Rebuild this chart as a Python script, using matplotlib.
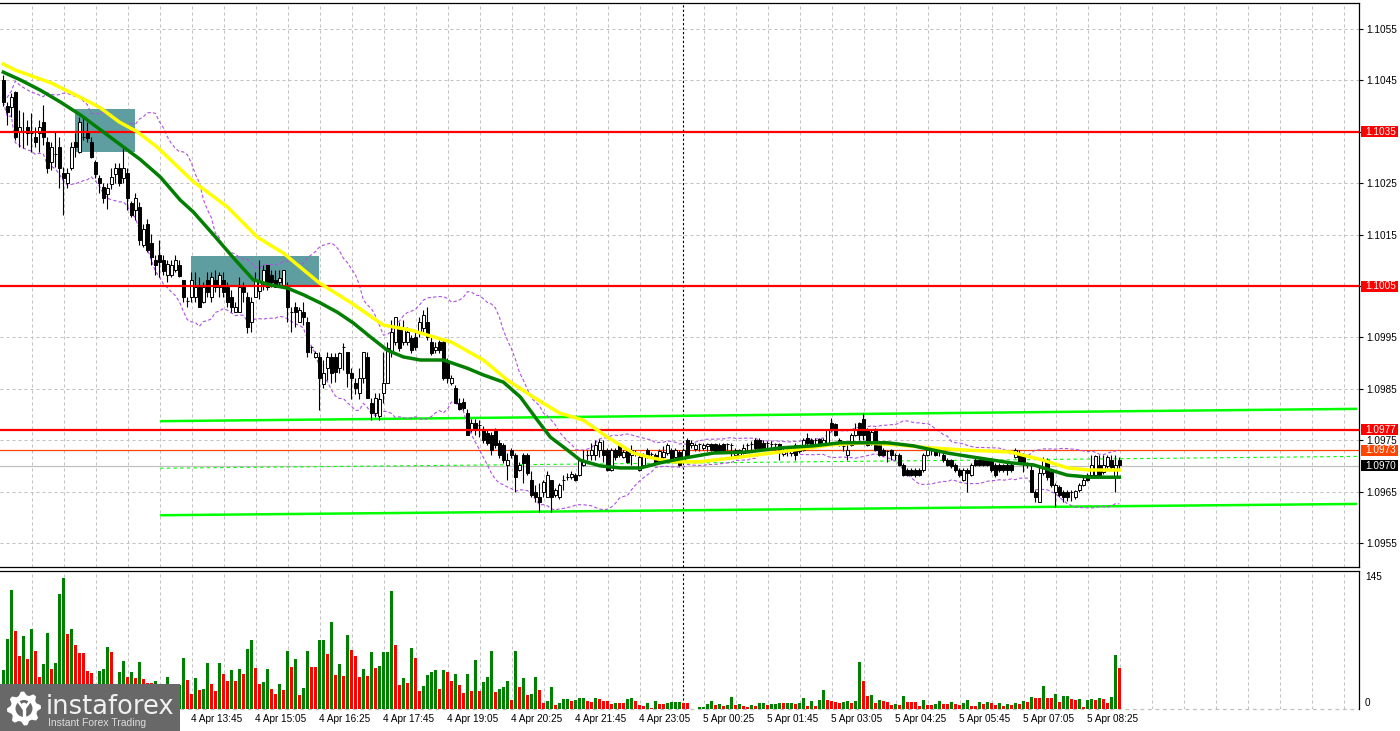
import numpy as np
import pandas as pd
import matplotlib
matplotlib.use("Agg")
import matplotlib.pyplot as plt
from matplotlib.patches import Rectangle, Circle, Polygon
from matplotlib.transforms import blended_transform_factory

plt.rcParams["font.family"] = ["Liberation Sans", "DejaVu Sans"]

# --- price data: 5-minute candles, pips above BASE ---
BASE = 1.0900

open_pips = [
    145.1, 140.0, 139.8, 142.7, 135.0, 135.0, 135.9, 134.7, 134.0, 134.8,
    136.9, 133.0, 129.1, 130.7, 132.0, 127.0, 125.0, 128.0, 133.0, 131.0,
    134.0, 135.0, 133.0, 129.1, 126.0, 124.3, 122.9, 124.9, 126.8, 128.0,
    126.0, 127.0, 121.1, 119.8, 120.4, 113.0, 117.1, 113.4, 110.1, 111.0,
    110.1, 107.1, 107.1, 108.1, 109.1, 106.2, 102.1, 102.9, 102.9, 104.8,
    101.9, 106.2, 102.9, 106.2, 104.8, 106.2, 104.8, 102.9, 99.9, 99.9,
    104.8, 102.9, 98.0, 102.9, 104.0, 105.8, 109.1, 107.1, 106.2, 105.8,
    104.8, 104.8, 99.9, 101.0, 98.0, 100.0, 98.0, 93.1, 91.2, 91.2,
    86.0, 89.0, 91.2, 91.2, 89.0, 93.1, 92.2, 88.1, 86.1, 84.1,
    87.1, 91.2, 82.2, 80.3, 79.8, 84.1, 86.1, 92.2, 94.2, 97.0,
    94.1, 94.1, 94.9, 95.0, 96.0, 96.8, 98.0, 94.1, 92.5, 94.1,
    94.1, 90.2, 86.1, 85.2, 82.2, 82.5, 80.3, 77.0, 78.3, 78.0,
    77.0, 76.4, 76.0, 77.0, 74.5, 74.1, 70.2, 73.1, 72.1, 69.2,
    72.1, 72.1, 67.3, 64.9, 63.9, 64.9, 63.9, 67.3, 64.3, 63.9,
    67.3, 67.8, 67.8, 68.2, 68.2, 70.2, 72.1, 72.1, 72.1, 73.1,
    73.1, 73.1, 69.2, 73.1, 74.1, 71.7, 73.1, 72.1, 72.5, 69.2,
    70.2, 73.1, 72.3, 72.1, 71.0, 71.7, 72.5, 73.1, 71.7, 72.7,
    71.1, 75.0, 74.0, 73.3, 74.3, 73.5, 73.9, 74.3, 74.3, 74.1,
    74.3, 74.3, 74.1, 72.1, 72.1, 72.5, 74.1, 74.3, 75.0, 75.0,
    74.5, 74.5, 74.3, 74.3, 74.3, 72.3, 72.9, 72.5, 74.1, 73.3,
    73.1, 75.4, 75.0, 75.0, 75.2, 74.1, 74.1, 78.3, 78.1, 75.0,
    73.9, 72.1, 74.1, 76.0, 78.3, 79.1, 77.0, 74.5, 77.0, 74.1,
    73.1, 72.9, 73.1, 72.1, 72.1, 70.2, 69.2, 69.2, 69.2, 69.2,
    69.2, 72.1, 73.1, 73.1, 73.1, 72.1, 71.1, 71.1, 70.2, 69.2,
    67.3, 69.2, 68.2, 71.1, 71.1, 71.1, 71.1, 71.1, 70.2, 70.2,
    70.2, 70.2, 70.2, 71.7, 72.1, 72.1, 70.2, 69.2, 64.9, 63.0,
    68.6, 71.1, 68.8, 64.9, 65.9, 64.9, 64.9, 64.9, 63.9, 65.3,
    66.3, 68.2, 68.2, 68.2, 70.2, 68.8, 70.0, 71.1, 67.8, 71.1,
]
high_pips = [
    146.0, 140.8, 142.5, 143.0, 139.2, 138.9, 137.3, 138.7, 135.9, 137.3,
    140.2, 134.0, 133.0, 135.0, 134.0, 128.2, 128.0, 133.0, 134.8, 137.9,
    137.9, 136.9, 134.0, 129.5, 126.6, 125.0, 125.0, 128.0, 129.0, 129.0,
    131.8, 128.0, 121.5, 123.1, 121.4, 117.1, 118.0, 115.2, 111.0, 113.9,
    111.0, 110.1, 110.1, 111.0, 110.1, 106.2, 102.9, 107.7, 107.7, 106.7,
    105.8, 107.7, 107.7, 108.1, 107.7, 107.7, 105.8, 104.2, 101.9, 106.7,
    105.8, 103.8, 102.9, 107.7, 110.0, 109.1, 109.1, 108.1, 108.1, 108.1,
    108.1, 105.8, 100.9, 101.9, 100.9, 101.9, 99.0, 93.3, 92.3, 92.2,
    90.6, 92.2, 92.0, 92.0, 92.2, 93.9, 92.2, 89.0, 87.1, 89.0,
    92.2, 92.2, 83.2, 84.1, 84.1, 92.2, 94.1, 98.4, 98.9, 98.0,
    98.4, 97.0, 95.5, 96.0, 98.9, 100.3, 100.9, 95.0, 94.1, 94.5,
    94.5, 91.0, 87.7, 85.7, 83.2, 83.2, 81.0, 79.1, 79.1, 78.9,
    77.7, 77.0, 76.6, 77.4, 75.0, 74.5, 72.5, 73.5, 72.5, 70.8,
    72.5, 72.5, 69.0, 66.3, 66.7, 67.3, 69.0, 67.3, 65.7, 66.7,
    68.2, 68.6, 69.0, 68.6, 71.5, 73.1, 73.1, 74.5, 75.0, 75.3,
    75.0, 73.5, 73.5, 73.5, 74.5, 73.1, 73.5, 74.1, 73.1, 72.1,
    72.5, 73.5, 72.7, 72.5, 73.3, 73.9, 74.5, 73.5, 73.5, 73.1,
    73.5, 75.4, 75.0, 74.5, 74.5, 74.5, 74.5, 74.5, 74.5, 74.5,
    74.5, 74.5, 74.5, 73.5, 73.3, 74.3, 74.5, 74.8, 75.4, 75.4,
    75.0, 74.8, 74.8, 74.5, 74.5, 73.5, 73.3, 73.5, 74.5, 73.9,
    75.4, 76.4, 75.4, 75.4, 75.4, 75.4, 77.0, 79.3, 78.3, 75.4,
    74.1, 74.5, 76.4, 78.3, 78.5, 80.3, 77.4, 77.0, 77.4, 74.5,
    73.5, 73.1, 73.3, 72.5, 72.5, 70.6, 69.6, 69.6, 69.6, 69.6,
    72.5, 73.5, 73.5, 73.5, 73.3, 72.5, 71.5, 71.3, 70.6, 69.6,
    69.6, 69.6, 70.6, 71.5, 71.3, 71.3, 71.3, 71.5, 70.6, 70.6,
    70.4, 70.6, 70.6, 73.5, 73.1, 72.5, 70.8, 70.2, 65.3, 70.2,
    71.7, 71.5, 69.2, 66.7, 66.3, 65.3, 65.3, 65.3, 65.3, 66.7,
    67.8, 68.6, 72.1, 72.1, 72.1, 72.1, 72.1, 72.1, 72.1, 71.7,
]
low_pips = [
    140.0, 136.3, 137.9, 133.5, 132.0, 131.8, 132.4, 131.1, 132.0, 131.1,
    132.4, 127.0, 127.6, 128.2, 124.1, 118.8, 124.1, 127.6, 130.1, 130.9,
    133.4, 133.0, 129.9, 126.0, 123.1, 121.1, 120.0, 123.9, 125.0, 124.5,
    125.0, 119.8, 118.5, 117.8, 113.0, 112.6, 111.7, 109.1, 107.1, 106.7,
    107.1, 105.7, 106.7, 107.7, 106.7, 101.9, 100.9, 101.9, 101.9, 100.9,
    101.7, 102.9, 101.9, 103.8, 102.9, 102.9, 100.9, 99.9, 99.9, 99.9,
    101.9, 95.9, 96.1, 102.9, 102.5, 104.2, 104.2, 104.8, 104.8, 104.8,
    104.8, 98.0, 96.1, 97.0, 98.0, 97.5, 91.2, 92.0, 91.0, 80.9,
    85.2, 86.8, 86.1, 86.4, 88.1, 88.7, 85.3, 83.1, 83.9, 83.1,
    86.1, 83.2, 78.9, 79.5, 79.0, 82.2, 86.1, 91.2, 93.6, 92.4,
    93.6, 93.5, 92.0, 92.5, 95.0, 96.0, 94.5, 91.5, 92.0, 92.0,
    86.7, 86.1, 85.7, 82.2, 80.9, 80.9, 76.0, 76.6, 76.0, 75.6,
    74.5, 74.0, 72.1, 73.5, 71.5, 70.5, 67.3, 71.5, 64.9, 69.0,
    66.7, 68.2, 64.0, 63.0, 61.0, 63.9, 63.9, 61.0, 64.0, 63.5,
    65.3, 67.3, 67.5, 67.0, 68.0, 69.9, 71.1, 71.1, 71.1, 71.7,
    70.8, 69.0, 69.0, 71.1, 71.7, 71.5, 70.5, 70.2, 72.0, 69.0,
    70.0, 71.5, 72.0, 70.2, 70.8, 71.5, 72.1, 71.1, 71.5, 70.0,
    70.6, 71.5, 73.5, 72.9, 72.9, 73.0, 72.9, 72.9, 72.7, 72.5,
    72.9, 73.1, 71.5, 71.7, 72.0, 72.3, 72.9, 73.1, 73.1, 73.3,
    73.1, 73.1, 73.3, 73.1, 71.1, 71.9, 71.9, 71.9, 71.1, 72.5,
    72.9, 74.1, 73.9, 74.1, 73.9, 73.9, 73.9, 76.8, 75.8, 73.9,
    72.9, 71.1, 73.9, 75.8, 75.0, 75.0, 73.9, 74.1, 72.9, 71.9,
    71.9, 70.8, 71.1, 71.1, 69.9, 68.0, 68.0, 68.0, 67.8, 68.0,
    68.8, 71.9, 72.1, 71.9, 71.9, 70.8, 69.9, 69.6, 68.8, 67.8,
    67.0, 64.9, 68.0, 69.9, 69.9, 69.9, 69.9, 68.8, 67.8, 68.8,
    68.8, 68.2, 68.8, 71.5, 70.6, 68.8, 69.6, 64.9, 63.0, 63.0,
    68.2, 67.3, 65.9, 62.0, 63.9, 63.0, 63.2, 63.2, 63.5, 65.0,
    66.0, 67.0, 67.8, 67.8, 67.8, 68.4, 69.6, 69.2, 64.9, 69.2,
]
close_pips = [
    140.8, 138.9, 141.8, 134.0, 135.9, 135.0, 134.8, 134.7, 133.0, 135.9,
    134.0, 128.0, 132.0, 130.7, 128.0, 126.0, 127.0, 132.0, 132.0, 136.9,
    134.0, 133.8, 130.1, 126.8, 125.0, 122.1, 124.1, 126.2, 128.0, 125.0,
    128.0, 122.1, 118.8, 122.1, 114.0, 116.1, 112.0, 110.6, 109.1, 109.7,
    107.9, 109.3, 109.1, 110.1, 106.9, 102.9, 102.1, 106.2, 104.8, 100.9,
    104.8, 103.8, 106.7, 104.8, 107.1, 103.8, 101.9, 100.9, 100.9, 104.8,
    103.8, 97.0, 101.9, 106.2, 106.0, 108.1, 104.8, 105.8, 104.8, 106.6,
    108.1, 100.9, 99.9, 100.0, 100.3, 99.0, 92.2, 93.1, 92.0, 87.1,
    88.0, 91.2, 88.1, 88.3, 92.0, 93.1, 88.1, 87.1, 85.1, 87.1,
    92.2, 83.2, 80.3, 83.2, 83.0, 86.1, 92.9, 96.1, 98.9, 92.9,
    96.8, 96.0, 92.5, 93.1, 98.0, 99.4, 95.0, 92.0, 93.1, 92.5,
    87.1, 87.1, 87.1, 82.2, 81.1, 81.2, 76.0, 78.3, 77.0, 78.0,
    75.0, 74.5, 73.1, 74.1, 72.1, 71.1, 71.1, 72.1, 67.8, 70.2,
    70.6, 68.6, 64.3, 63.9, 63.0, 66.9, 68.2, 63.9, 65.3, 66.3,
    67.3, 67.8, 68.5, 67.3, 71.1, 71.1, 72.1, 73.1, 74.1, 74.7,
    72.1, 69.2, 73.1, 71.7, 72.1, 72.7, 70.8, 73.1, 72.5, 71.7,
    72.1, 71.7, 72.3, 70.6, 72.9, 72.7, 74.1, 71.3, 73.1, 70.2,
    73.1, 72.1, 74.5, 74.1, 74.3, 74.1, 74.3, 73.0, 72.9, 72.9,
    73.1, 74.3, 74.1, 73.1, 73.1, 73.5, 74.1, 74.3, 73.5, 73.5,
    73.3, 74.5, 74.3, 74.3, 72.9, 73.1, 72.9, 73.3, 72.1, 72.9,
    75.0, 74.5, 74.1, 75.0, 74.1, 75.0, 77.0, 77.0, 76.0, 74.1,
    73.9, 73.1, 76.0, 77.0, 76.0, 76.0, 74.1, 76.6, 73.1, 72.1,
    72.1, 72.9, 72.1, 72.1, 70.2, 68.2, 68.2, 68.2, 68.2, 68.2,
    72.1, 73.1, 73.1, 72.1, 73.1, 71.1, 70.2, 70.0, 69.2, 68.2,
    69.2, 68.6, 70.2, 70.2, 70.2, 70.2, 70.2, 69.2, 68.2, 69.2,
    69.2, 69.2, 69.2, 73.1, 70.8, 70.8, 70.2, 64.9, 63.9, 68.6,
    71.1, 67.8, 66.3, 66.3, 64.3, 63.9, 63.9, 64.9, 65.1, 66.3,
    67.3, 67.3, 70.2, 72.0, 68.2, 70.2, 71.7, 69.8, 70.2, 70.2,
]
volumes = [
    43.2, 77.5, 131.7, 86.3, 58.7, 80.8, 55.4, 88.6, 64.6, 35.4,
    49.8, 84.1, 44.6, 50.9, 127.7, 145.0, 83.0, 88.6, 70.8, 62.0,
    61.5, 42.0, 39.9, 22.0, 42.0, 44.3, 68.6, 63.1, 20.0, 41.0,
    53.1, 35.4, 41.0, 34.3, 52.0, 33.2, 28.8, 28.5, 31.0, 22.0,
    20.0, 35.4, 27.7, 24.0, 26.6, 56.5, 32.1, 16.6, 34.3, 21.0,
    22.1, 50.9, 27.7, 19.9, 50.9, 38.7, 31.0, 43.2, 31.0, 44.3,
    38.7, 66.4, 76.4, 45.4, 27.7, 29.9, 44.3, 22.1, 16.6, 27.7,
    21.0, 64.2, 46.5, 55.4, 15.5, 23.2, 64.2, 46.5, 46.0, 76.4,
    76.8, 60.9, 96.3, 37.6, 49.8, 36.5, 81.9, 65.3, 58.7, 35.4,
    44.3, 36.5, 63.1, 45.4, 47.6, 63.1, 63.5, 130.6, 70.8, 26.6,
    34.3, 28.8, 67.5, 56.5, 19.9, 25.5, 37.6, 41.0, 43.2, 22.1,
    43.2, 41.0, 31.4, 38.7, 26.6, 17.7, 38.7, 19.9, 54.2, 19.9,
    29.9, 35.4, 64.2, 18.8, 22.1, 24.4, 31.0, 10.0, 64.2, 24.4,
    34.3, 15.5, 16.6, 35.4, 21.0, 6.6, 8.9, 24.4, 4.4, 6.6,
    11.1, 11.5, 8.9, 10.0, 12.2, 12.6, 8.9, 7.7, 12.2, 11.1,
    8.9, 8.5, 6.0, 6.8, 6.4, 6.2, 11.1, 12.2, 8.9, 4.4,
    3.3, 6.6, 1.1, 8.9, 5.5, 5.3, 6.6, 7.7, 7.9, 8.1,
    6.6, 6.4, 0.5, 0.4, 2.2, 2.5, 5.5, 8.9, 4.4, 5.5,
    3.3, 4.4, 13.3, 4.4, 5.5, 3.3, 2.2, 4.4, 3.3, 6.6,
    6.8, 4.4, 5.5, 5.7, 6.6, 6.5, 6.7, 6.9, 5.5, 6.6,
    12.2, 3.3, 8.9, 3.3, 10.0, 21.0, 10.0, 8.9, 7.7, 6.6,
    7.7, 8.9, 6.6, 8.9, 52.0, 31.0, 14.4, 15.5, 6.6, 10.0,
    8.9, 7.7, 4.4, 5.5, 4.4, 14.4, 7.7, 7.5, 7.3, 3.3,
    10.0, 4.4, 4.2, 5.5, 8.9, 5.5, 5.3, 7.7, 5.5, 4.4,
    6.6, 10.0, 3.5, 3.3, 7.7, 5.5, 7.7, 6.6, 4.4, 6.6,
    3.3, 5.5, 4.4, 6.6, 5.5, 8.9, 7.7, 13.3, 12.2, 12.0,
    25.5, 12.2, 12.0, 16.6, 7.7, 14.4, 14.6, 11.1, 10.0, 11.1,
    2.2, 10.0, 11.1, 10.0, 12.2, 11.1, 6.6, 13.3, 59.8, 45.4,
]

# moving averages: bar position -> pips
ma_yellow_bar = [0, 3, 12, 19, 24, 29, 33.5, 38.5, 44, 47.5,
                 56, 63.5, 70, 79, 87, 95, 102, 107.5, 112, 120,
                 126, 132.5, 139, 145, 151, 157.5, 162.5, 167.5, 174, 181.75,
                 194, 206.75, 215, 223.5, 231.75, 240, 251.75, 260, 266, 271.75,
                 279]
ma_yellow_pips = [148.2, 147.0, 144.5, 141.8, 139.8, 136.9, 135.0, 132.0, 127.9, 125.3,
                  120.4, 114.5, 111.4, 105.6, 101.7, 97.4, 96.4, 95.1, 94.1, 90.6,
                  86.7, 83.4, 80.3, 78.9, 75.6, 72.5, 71.5, 70.8, 70.8, 71.5,
                  72.7, 74.1, 74.5, 74.1, 73.5, 73.1, 72.7, 71.1, 69.6, 69.2,
                  69.2]
ma_green_bar = [0, 4.25, 9.25, 14.25, 19.25, 24.25, 29.25, 34.25, 39.25, 44.25,
                47.5, 52.5, 57.5, 62.5, 66.75, 71, 75, 79.25, 83.5, 87.5,
                91.75, 96, 100, 104.25, 110, 116, 120, 125, 129.25, 133.5,
                136.75, 141, 144.25, 149.25, 154.25, 159.25, 164.25, 170, 177.5, 186,
                194.25, 202.5, 209.25, 215, 221, 227.5, 236, 242.5, 251.75, 257.5,
                266, 271.75, 279]
ma_green_pips = [146.6, 145.1, 143.1, 140.8, 138.3, 135.4, 132.5, 129.6, 126.2, 121.7,
                 119.4, 115.0, 110.5, 106.2, 105.2, 104.6, 103.3, 101.7, 99.9, 97.8,
                 95.1, 92.5, 91.2, 90.6, 90.6, 89.0, 87.7, 86.3, 83.4, 78.9,
                 75.6, 73.1, 71.1, 70.0, 69.6, 69.6, 70.6, 71.5, 72.5, 72.7,
                 73.5, 73.9, 74.5, 74.5, 74.5, 73.9, 72.5, 71.7, 70.6, 70.2,
                 68.2, 67.8, 67.8]

# levels and drawn objects
red_levels = [1.1035, 1.1005, 1.0977]
entry_level = 1.0973
bid_price = 1.0970
zone_bars = [(17.9, 32.9), (46.9, 78.9)]
zone_prices = [(1.10311, 1.10394), (1.10052, 1.10108)]
channel_bars = [39.2, 338.4]
channel_upper_pips = [78.7, 81.1]
channel_lower_pips = [60.4, 62.6]

price_ticks = [1.0955, 1.0965, 1.0975, 1.0985, 1.0995, 1.1005,
               1.1015, 1.1025, 1.1035, 1.1045, 1.1055]
time_labels = ["4 Apr 13:45", "4 Apr 15:05", "4 Apr 16:25", "4 Apr 17:45",
               "4 Apr 19:05", "4 Apr 20:25", "4 Apr 21:45", "4 Apr 23:05",
               "5 Apr 00:25", "5 Apr 01:45", "5 Apr 03:05", "5 Apr 04:25",
               "5 Apr 05:45", "5 Apr 07:05", "5 Apr 08:25"]
first_label_bar = 47
label_step = 16
day_break_bar = 170
vol_top_label = 145

FS = 7.2  # axis text size


def pips(values):
    return BASE + np.asarray(values, dtype=float) / 10000.0


W, H = 1400, 731


def px_rect(x0, y0, x1, y1):
    return [x0 / W, 1 - y1 / H, (x1 - x0) / W, (y1 - y0) / H]


fig = plt.figure(figsize=(W / 100, H / 100), dpi=100)
fig.patch.set_facecolor("white")
ax = fig.add_axes(px_rect(0, 3, 1359, 567))
axv = fig.add_axes(px_rect(0, 571, 1359, 709))

o, h, l, c = pips(open_pips), pips(high_pips), pips(low_pips), pips(close_pips)
idx = np.arange(len(c))
xlim = (-0.83, 338.9)
GRID = "#C0C0C0"

for a in (ax, axv):
    a.set_xlim(*xlim)
    for k in range(1, 43):
        a.axvline(8 * k - 0.83, color=GRID, lw=0.72, ls=(0, (3, 3)), zorder=0.5)
    a.axvline(day_break_bar, color="black", lw=0.8, ls=(0, (2, 2)), zorder=0.6)
    for s in a.spines.values():
        s.set_linewidth(0.9)
        s.set_color("black")
    a.spines["left"].set_visible(False)

# --- main price panel ---
ax.set_ylim(1.095033, 1.106006)
for p in price_ticks:
    ax.axhline(p, color=GRID, lw=0.72, ls=(0, (3, 3)), zorder=0.5)

for (b0, b1), (p0, p1) in zip(zone_bars, zone_prices):
    ax.add_patch(Rectangle((b0, p0), b1 - b0, p1 - p0, fc="#5F9EA0", ec="none", zorder=1))

ax.axhline(bid_price, color="#C0C0C0", lw=0.9, zorder=1.5)
ax.axhline(entry_level, color="#FF4500", lw=0.9, zorder=1.6)

cu = pips(channel_upper_pips)
cl = pips(channel_lower_pips)
ax.plot(channel_bars, cu, color="#00FF00", lw=1.8, zorder=1.7, solid_capstyle="butt")
ax.plot(channel_bars, cl, color="#00FF00", lw=1.8, zorder=1.7, solid_capstyle="butt")
ax.plot(channel_bars, (cu + cl) / 2, color="#00FF00", lw=0.8, ls=(0, (3, 3)), zorder=1.7)

# bollinger bands from closes
closes = pd.Series(c)
mid = closes.rolling(20, min_periods=1).mean()
sd = closes.rolling(20, min_periods=1).std(ddof=0)
ax.plot(idx, mid + 2 * sd, color="#B050E0", lw=0.8, ls=(0, (3, 2)), zorder=2)
ax.plot(idx, mid - 2 * sd, color="#B050E0", lw=0.8, ls=(0, (3, 2)), zorder=2)

# candles
up = c >= o
ax.vlines(idx, l, h, color="black", lw=0.8, zorder=3)
body_low = np.minimum(o, c)
body_h = np.maximum(np.abs(c - o), 1e-7)
ax.bar(idx, body_h, width=0.62, bottom=body_low, color=np.where(up, "white", "black"),
       edgecolor="black", linewidth=0.7, zorder=4)

for lvl in red_levels:
    ax.axhline(lvl, color="#FF0000", lw=1.6, zorder=4.5)

ax.plot(ma_yellow_bar, pips(ma_yellow_pips), color="#FFFF00", lw=2.5, zorder=5)
ax.plot(ma_green_bar, pips(ma_green_pips), color="#007F00", lw=2.5, zorder=5.1)

ax.set_xticks([])
ax.set_yticks(price_ticks)
ax.set_yticklabels([f"{p:.4f}" for p in price_ticks])
ax.tick_params(axis="y", left=False, right=True, labelleft=False, labelright=True,
               labelsize=FS, length=3, width=0.8, pad=2)

# highlighted price tags on the right scale
trans = blended_transform_factory(ax.transAxes, ax.transData)
half = 5.5 * 0.01 / 514
tags = [(p, "#FF0000") for p in red_levels] + [(entry_level, "#FF4500"), (bid_price, "#000000")]
for price, col in tags:
    ax.add_patch(Rectangle((1361 / 1359, price - half), 37 / 1359, 2 * half, transform=trans,
                           fc=col, ec="none", clip_on=False, zorder=10))
    ax.text(1365 / 1359, price, f"{price:.4f}", transform=trans, color="white", fontsize=FS,
            ha="left", va="center", clip_on=False, zorder=11)

# --- volume panel ---
vols = np.asarray(volumes)
prev = np.concatenate([[0.0], vols[:-1]])
vcol = np.where(vols > prev, "#008000", "#FF0000")
axv.bar(idx, vols, width=0.72, color=vcol, zorder=3)
axv.set_ylim(0, 152.8)
axv.axhline(0, color=GRID, lw=0.9, ls=(0, (3, 3)), clip_on=False, zorder=2)
axv.spines["bottom"].set_visible(False)
axv.set_yticks([])
axv.text(1365 / 1359, (709 - 577) / 138, str(vol_top_label), transform=axv.transAxes,
         fontsize=FS, ha="left", va="center")
axv.text(1365 / 1359, (709 - 703) / 138, "0", transform=axv.transAxes,
         fontsize=FS, ha="left", va="center")

label_pos = [first_label_bar + label_step * k for k in range(len(time_labels))]
axv.set_xticks(label_pos)
axv.set_xticklabels(time_labels, ha="left", fontsize=FS)
axv.tick_params(axis="x", length=0, pad=3.5)

# --- logo box ---
axl = fig.add_axes(px_rect(0, 684, 180, 731))
axl.set_xlim(0, 180)
axl.set_ylim(47, 0)
axl.axis("off")
axl.add_patch(Rectangle((0, 0), 180, 47, fc="#686868", ec="none"))
cx, cy = 24, 24.5
teeth = 8
ang = np.linspace(0, 2 * np.pi, teeth * 4, endpoint=False) + np.pi / 8
radii = np.tile([13.5, 17, 17, 13.5], teeth)
axl.add_patch(Polygon(np.c_[cx + radii * np.cos(ang), cy + radii * np.sin(ang)],
                      closed=True, fc="white", ec="none"))
axl.add_patch(Circle((cx, cy), 8.5, fc="#686868", ec="none"))
axl.add_patch(Circle((cx, cy - 3), 2.8, fc="white", ec="none"))
axl.plot([cx - 5, cx, cx + 5], [cy - 6, cy + 1, cy - 6], color="white", lw=1.8)
axl.plot([cx, cx], [cy + 1, cy + 10], color="white", lw=2.4)
axl.text(46, 29.5, "instaforex", color="#F0F0F0", fontsize=18.5, family="DejaVu Sans",
         va="baseline", ha="left")
axl.text(48, 41.5, "Instant Forex Trading", color="#DDDDDD", fontsize=7.5,
         va="baseline", ha="left")

fig.savefig("out.png", dpi=100)
